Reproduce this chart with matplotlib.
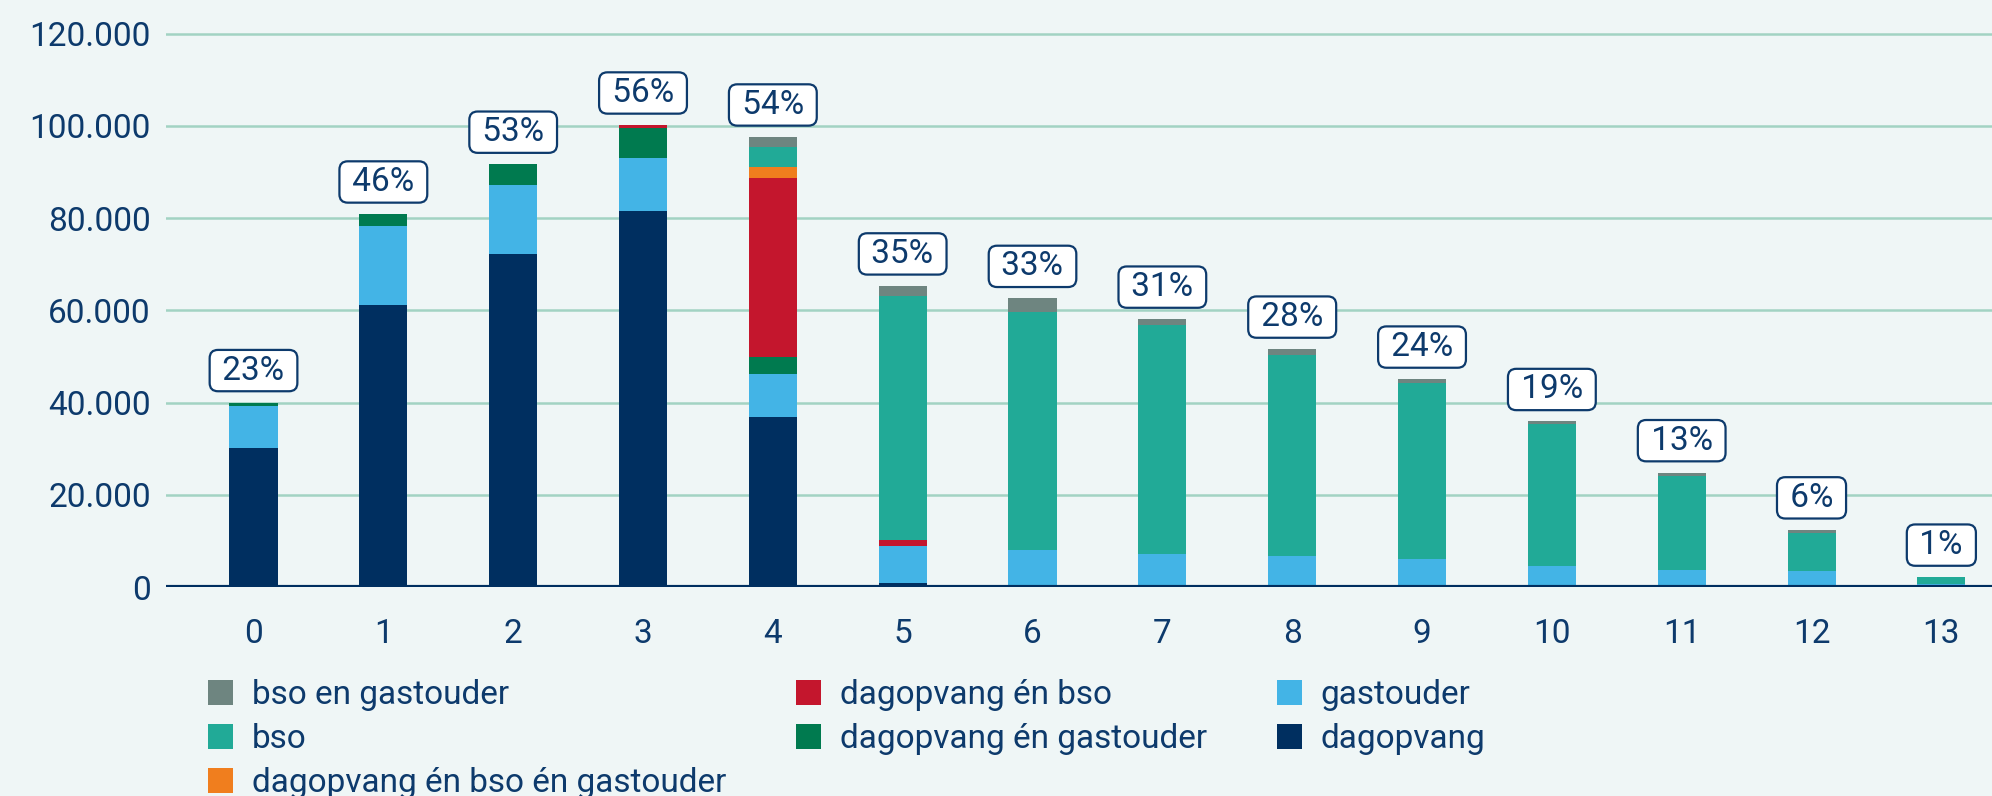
import numpy as np
import matplotlib
matplotlib.use("Agg")
import matplotlib.pyplot as plt
from matplotlib.ticker import FuncFormatter

plt.rcParams['font.family'] = ['Roboto', 'DejaVu Sans']

# leeftijd van het kind
ages = list(range(14))

# aantallen kinderen (x 1000) per opvangcombinatie
dagopvang = [30.2, 61.2, 72.2, 81.5, 36.8, 0.9, 0, 0, 0, 0, 0, 0, 0, 0]
gastouder = [9.0, 17.0, 14.9, 11.5, 9.4, 8.0, 8.1, 7.2, 6.8, 6.0, 4.6, 3.7, 3.5, 0.65]
dag_gast = [0.8, 2.7, 4.6, 6.6, 3.7, 0, 0, 0, 0, 0, 0, 0, 0, 0]
dag_bso = [0, 0, 0, 0.6, 38.8, 1.2, 0, 0, 0, 0, 0, 0, 0, 0]
dag_bso_gast = [0, 0, 0, 0, 2.4, 0, 0, 0, 0, 0, 0, 0, 0, 0]
bso = [0, 0, 0, 0, 4.4, 53.0, 51.6, 49.7, 43.5, 38.2, 30.7, 20.4, 8.3, 1.5]
bso_gast = [0, 0, 0, 0, 2.1, 2.2, 2.9, 1.2, 1.3, 0.9, 0.6, 0.7, 0.6, 0]

# percentage gebruik per leeftijd
pct = [23, 46, 53, 56, 54, 35, 33, 31, 28, 24, 19, 13, 6, 1]

series = [
    ("dagopvang", dagopvang, "#002f60"),
    ("gastouder", gastouder, "#43b4e6"),
    ("dagopvang én gastouder", dag_gast, "#007a4f"),
    ("dagopvang én bso", dag_bso, "#c4162d"),
    ("dagopvang én bso én gastouder", dag_bso_gast, "#f07e1e"),
    ("bso", bso, "#21aa97"),
    ("bso en gastouder", bso_gast, "#6e8580"),
]

bg = "#eff6f6"
navy = "#0d3a6c"
fs = 24

fig = plt.figure(figsize=(19.92, 7.96), dpi=100, facecolor=bg)
ax = fig.add_axes([166 / 1992, (796 - 587) / 796, 1 - 166 / 1992, 587 / 796])
ax.set_facecolor(bg)

x = np.array(ages)
bottom = np.zeros(len(ages))
bars = {}
for name, vals, color in series:
    v = np.array(vals) * 1000
    bars[name] = ax.bar(x, v, bottom=bottom, width=0.37, color=color, label=name, zorder=3)
    bottom += v

# percentage labels boven de staven
for xi, total, p in zip(x, bottom, pct):
    ax.annotate(f" {p}% ", (xi, total), xytext=(0, 11.5), textcoords="offset points",
                ha="center", va="bottom", fontsize=fs, color=navy, zorder=5,
                bbox=dict(boxstyle="round,pad=0.14,rounding_size=0.25", fc="white",
                          ec=navy, lw=1.6))

ax.set_xlim(-0.674, 13.39)
ax.set_ylim(0, 127300)
ax.set_yticks(np.arange(0, 120001, 20000))
ax.yaxis.set_major_formatter(FuncFormatter(lambda v, _: f"{int(v):,}".replace(",", ".")))
ax.set_xticks(x)
ax.set_xticklabels([str(a) for a in ages])
ax.tick_params(axis="y", length=0, pad=11, labelsize=fs, labelcolor=navy)
ax.tick_params(axis="x", length=0, pad=22.5, labelsize=fs, labelcolor=navy)

ax.grid(axis="y", color="#a2d3c3", linewidth=1.8, zorder=0)
for s in ax.spines.values():
    s.set_visible(False)
ax.axhline(0, color="#002f60", linewidth=3, zorder=4)

order = ["bso en gastouder", "bso", "dagopvang én bso én gastouder",
         "dagopvang én bso", "dagopvang én gastouder", "gastouder", "dagopvang"]
leg = fig.legend([bars[n] for n in order], order, loc="upper left",
                 bbox_to_anchor=(208 / 1992, 1 - 679 / 796), ncol=3, frameon=False,
                 fontsize=fs, borderpad=0, borderaxespad=0, handlelength=0.76,
                 handleheight=0.76, handletextpad=0.55, columnspacing=2.1,
                 labelspacing=0.36)
for t in leg.get_texts():
    t.set_color(navy)

fig.savefig("out.png", dpi=100, facecolor=bg)
